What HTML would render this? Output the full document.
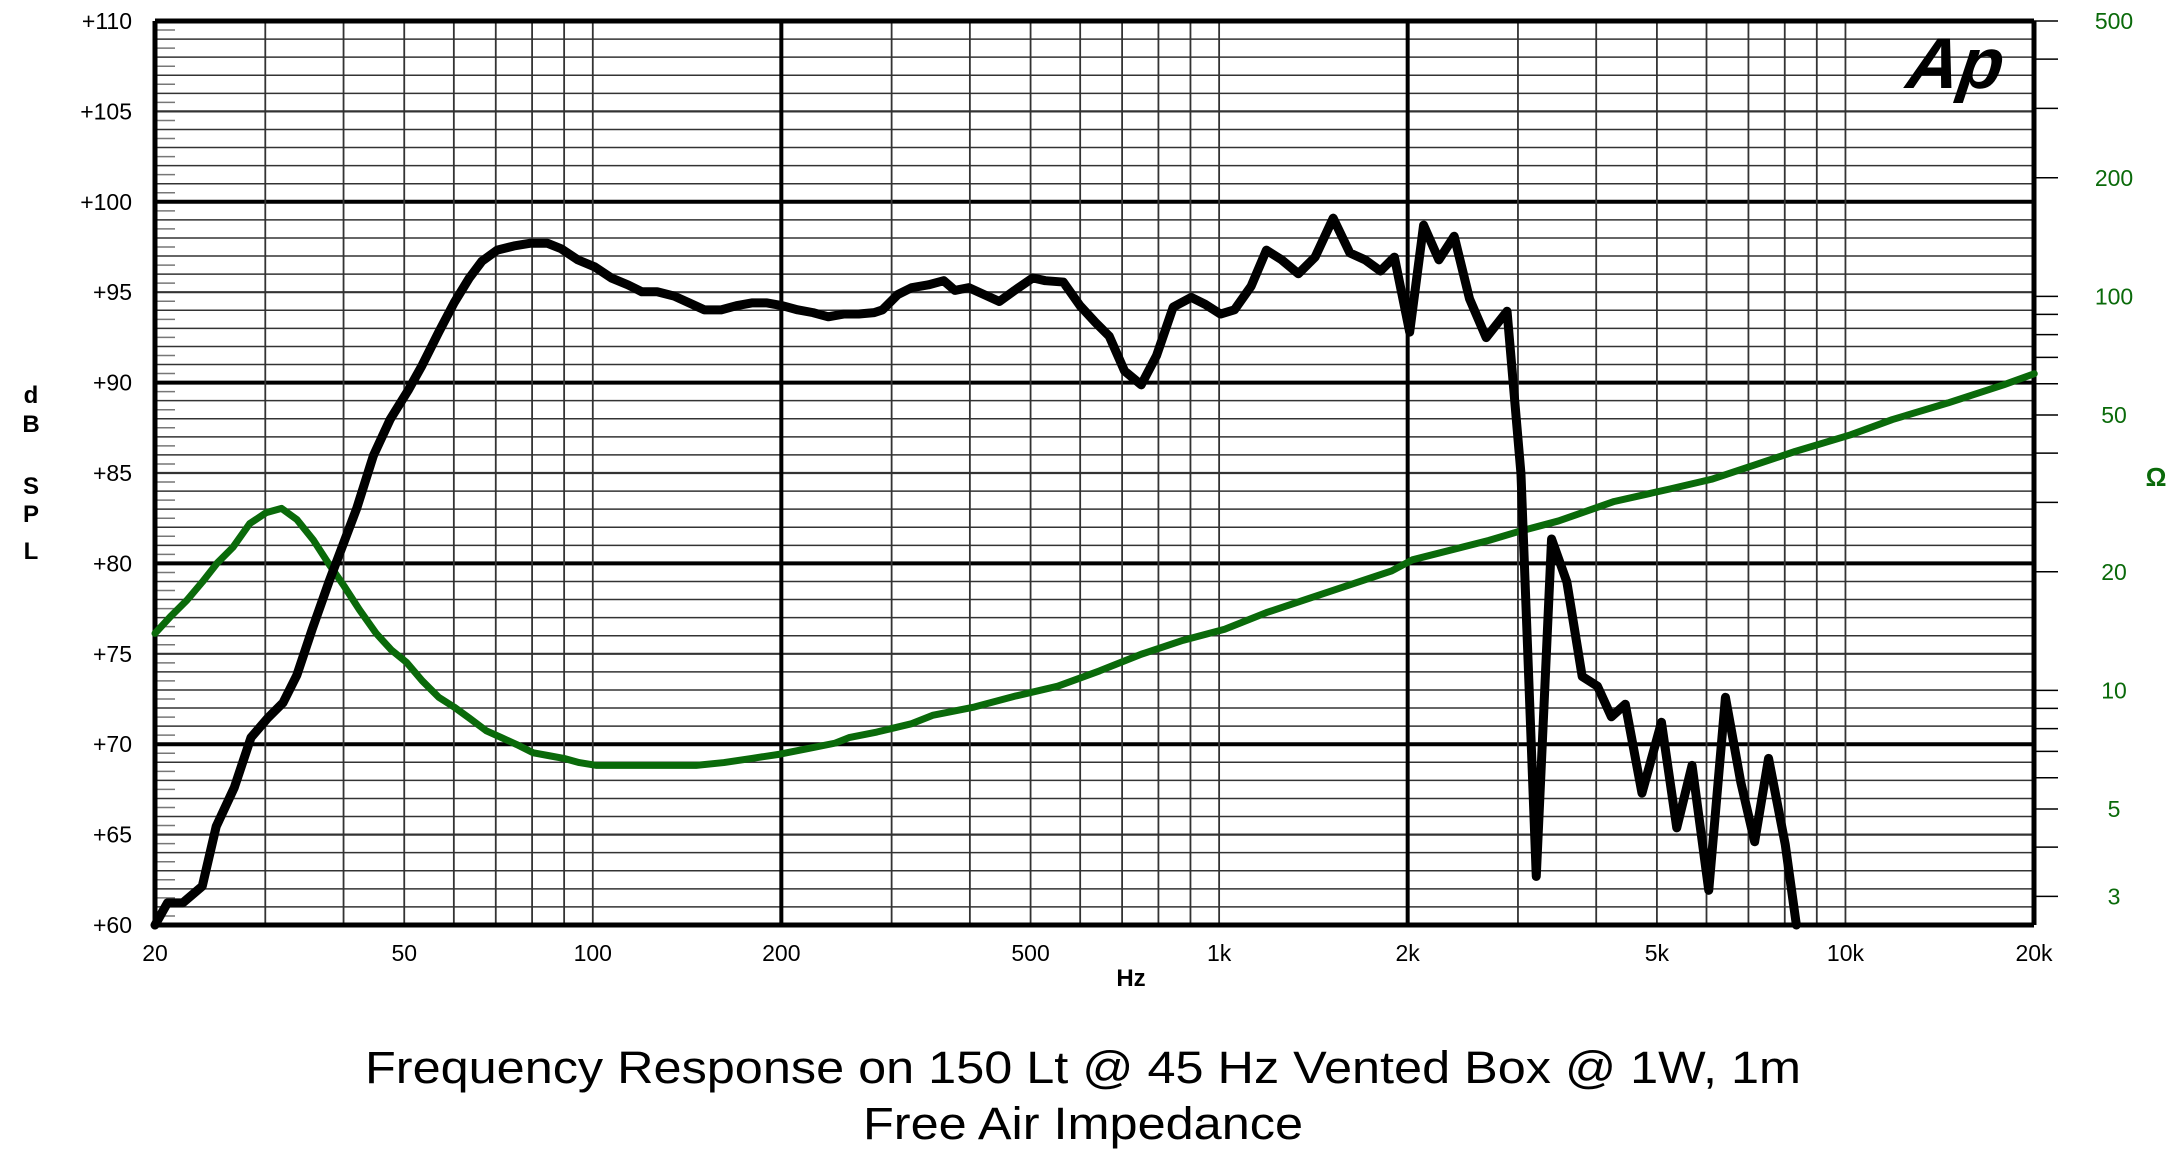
<!DOCTYPE html>
<html><head><meta charset="utf-8"><style>
html,body{margin:0;padding:0;background:#fff;}
svg{display:block;}
</style></head><body>
<svg id="s" width="2184" height="1161" viewBox="0 0 2184 1161" xmlns="http://www.w3.org/2000/svg" font-family="Liberation Sans, sans-serif">
<g id="grid"></g>
<g id="lbl" font-size="23" fill="#000"></g>
<g transform="translate(155,21) scale(1.391,1.3887) translate(-111,-14)" fill="none" stroke-linejoin="round" stroke-linecap="round">
<polyline vector-effect="non-scaling-stroke" stroke="#0a6a0a" stroke-width="7" points="111,455 122,443 134,431 145,418 156,404 167,393 179,376 191,368 202,365 213,373 225,388 236,405 247,421 258,438 270,455 281,467 292,476 303,489 315,501 326,508 337,516 349,525 360,530 371,535 383,541 394,543 405,545 416,548 428,550 450,550 500,550 520,548 540,545 560,542 580,538 600,534 610,530 630,526 655,520 670,514 700,508 730,500 760,493 790,482 820,470 850,460 880,452 910,440 940,430 970,420 1000,410 1015,402 1070,388 1090,382 1120,374 1160,360 1200,351 1230,344 1260,334 1290,324 1330,312 1360,301 1400,289 1440,276 1462,268"/>
<polyline vector-effect="non-scaling-stroke" stroke="#000" stroke-width="9" points="111,665 120,649 131,649 145,637 155,594 168,566 180,530 192,516 203,505 213,485 224,452 236,418 256,365 268,327 280,301 293,280 303,262 315,238 326,217 337,199 346,187 357,179 369,176 381,174 393,174 403,178 415,186 427,191 439,199 451,204 461,209 472,209 484,212 495,217 506,222 518,222 529,219 540,217 551,217 562,219 573,222 584,224 595,227 606,225 617,225 628,224 634,222 645,211 655,206 667,204 678,201 686,208 696,206 707,211 718,216 729,208 742,199 751,201 764,202 776,219 787,231 797,241 808,266 820,276 831,255 843,220 856,213 866,218 877,225 887,222 899,205 910,179 921,186 933,196 945,184 958,156 970,181 981,186 992,194 1002,184 1013,238 1023,161 1034,186 1045,169 1056,214 1068,242 1083,223 1093,340 1104,630 1115,387 1126,418 1137,486 1148,493 1158,515 1168,506 1180,570 1194,519 1205,595 1216,550 1228,640 1240,501 1251,562 1261,605 1271,545 1283,607 1291,665"/>
</g>
<text x="1905" y="88" font-size="72" font-weight="bold" font-style="italic" transform="skewX(-8) translate(12,0)" fill="#000">Ap</text>
<text x="1131" y="986" font-size="24" font-weight="bold" text-anchor="middle">Hz</text>
<g font-size="24" font-weight="bold" text-anchor="middle">
<text x="31" y="403">d</text><text x="31" y="432">B</text>
<text x="31" y="494">S</text><text x="31" y="522">P</text><text x="31" y="559">L</text>
</g>
<text x="2156" y="486" font-size="26" font-weight="bold" fill="#0a6a0a" text-anchor="middle">Ω</text>
<text x="1083" y="1083" font-size="45" text-anchor="middle" textLength="1436" lengthAdjust="spacingAndGlyphs">Frequency Response on 150 Lt @ 45 Hz Vented Box @ 1W, 1m</text>
<text x="1083" y="1139" font-size="45" text-anchor="middle" textLength="440" lengthAdjust="spacingAndGlyphs">Free Air Impedance</text>
</svg>
<script>
var NS="http://www.w3.org/2000/svg",g=document.getElementById('grid'),L=document.getElementById('lbl');
var X0=155,X1=2034,Y0=21,Y1=925,dpx=(Y1-Y0)/50,dec=(X1-X0)/3;
function ln(x1,y1,x2,y2,w,c){var e=document.createElementNS(NS,'line');e.setAttribute('x1',x1);e.setAttribute('y1',y1);e.setAttribute('x2',x2);e.setAttribute('y2',y2);e.setAttribute('stroke',c||'#000');e.setAttribute('stroke-width',w);g.appendChild(e);}
function tx(x,y,s,a,c){var e=document.createElementNS(NS,'text');e.setAttribute('x',x);e.setAttribute('y',y);e.setAttribute('text-anchor',a);if(c)e.setAttribute('fill',c);e.textContent=s;L.appendChild(e);}
function fx(f){return X0+Math.log10(f/20)*dec;}
for(var d=0;d<=50;d++){var y=Y0+d*dpx;var w=(d%10==0)?4:(d%5==0?2.2:1.5);ln(X0,y,X1,y,w,d%10==0?'#000':'#333');
 if(d<50)ln(X0,y+dpx/2,X0+20,y+dpx/2,1.5,'#777');
 if(d%5==0)tx(132,y+8,'+'+(110-d),'end');}
var fs=[];for(var f=30;f<100;f+=10)fs.push(f);for(f=100;f<1000;f+=100)fs.push(f);for(f=1000;f<10000;f+=1000)fs.push(f);fs.push(10000,20000);
fs.forEach(function(f){var x=fx(f);var th=(f==200||f==2000);ln(x,Y0,x,Y1,th?4:1.8,th?'#000':'#333');});
ln(X0,Y0,X0,Y1,5);ln(X1,Y0,X1,Y1,5);ln(X0,Y0,X1,Y0,5);ln(X0,Y1,X1,Y1,5);
[[20,'20'],[50,'50'],[100,'100'],[200,'200'],[500,'500'],[1000,'1k'],[2000,'2k'],[5000,'5k'],[10000,'10k'],[20000,'20k']].forEach(function(p){tx(fx(p[0]),961,p[1],'middle');});
var od=394;function oy(o){return Y0+Math.log10(500/o)*od;}
[3,4,5,6,7,8,9,10,20,30,40,50,60,70,80,90,100,200,300,400,500].forEach(function(o){ln(X1,oy(o),X1+24,oy(o),1.5);});
[500,200,100,50,20,10,5,3].forEach(function(o){tx(2114,oy(o)+8,''+o,'middle','#0a6a0a');});
</script>
</body></html>
